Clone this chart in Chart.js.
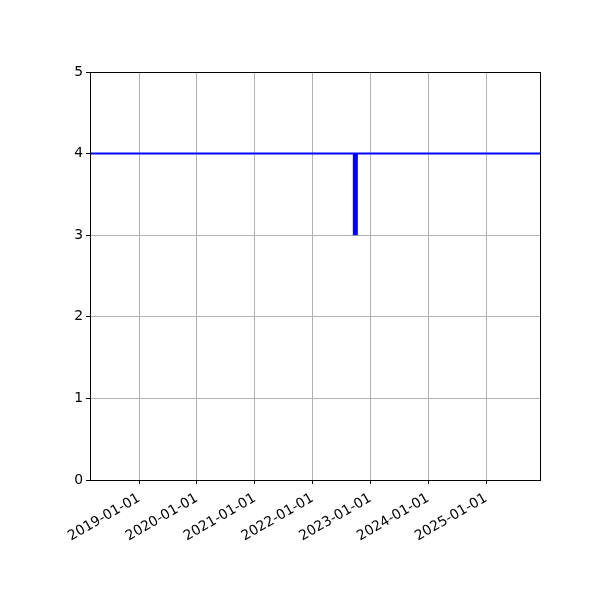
<!DOCTYPE html>
<html>
<head>
<meta charset="utf-8">
<script src="https://cdn.jsdelivr.net/npm/chart.js@4"></script>
<style>
  body { margin: 0; background: #fff; }
  #wrap { width: 600px; height: 600px; }
</style>
</head>
<body>
<div id="wrap"><canvas id="chart" width="600" height="600"></canvas></div>
<script>
// x limits of the plot
const xLimits = ['2018-02-24', '2025-12-08'];

// flat series across the whole range
const lineDates = ['2018-02-24', '2025-12-08'];
const lineValues = [4, 4];

// single vertical segment
const spikeDates = ['2022-09-28', '2022-09-28'];
const spikeValues = [3, 4];

const yearTicks = ['2019-01-01', '2020-01-01', '2021-01-01', '2022-01-01',
                   '2023-01-01', '2024-01-01', '2025-01-01'];
const yTicks = [0, 1, 2, 3, 4, 5];

function ts(d) {
  return Date.parse(d + 'T00:00:00Z');
}

function fmtDate(v) {
  return new Date(v).toISOString().slice(0, 10);
}

function toPoints(dates, values) {
  return dates.map((d, i) => ({ x: ts(d), y: values[i] }));
}

const FONT = { family: 'DejaVu Sans', size: 13.9 };

// top/right spines like matplotlib
const frame = {
  id: 'frame',
  afterDatasetsDraw(chart) {
    const { ctx, chartArea: a } = chart;
    ctx.save();
    ctx.strokeStyle = '#000';
    ctx.lineWidth = 1;
    ctx.strokeRect(Math.round(a.left) + 0.5, Math.round(a.top) + 0.5,
                   Math.round(a.right - a.left), Math.round(a.bottom - a.top));
    ctx.restore();
  }
};

new Chart(document.getElementById('chart'), {
  type: 'line',
  data: {
    datasets: [{
      data: toPoints(lineDates, lineValues),
      borderColor: '#0000ff',
      borderWidth: 2,
      pointRadius: 0,
      fill: false
    }, {
      data: toPoints(spikeDates, spikeValues),
      borderColor: '#0000ff',
      borderWidth: 5,
      borderCapStyle: 'butt',
      pointRadius: 0,
      fill: false
    }]
  },
  options: {
    responsive: false,
    animation: false,
    devicePixelRatio: 1,
    layout: { padding: { top: 72, right: 60, left: 0, bottom: 0 } },
    plugins: {
      legend: { display: false },
      tooltip: { enabled: false }
    },
    scales: {
      x: {
        type: 'linear',
        min: ts(xLimits[0]),
        max: ts(xLimits[1]),
        afterBuildTicks(scale) {
          scale.ticks = yearTicks.map(d => ({ value: ts(d) }));
        },
        afterFit(scale) { scale.height = 120; },
        ticks: {
          autoSkip: false,
          minRotation: 30,
          maxRotation: 30,
          padding: 6,
          color: '#000',
          font: FONT,
          callback: v => fmtDate(v)
        },
        grid: { color: '#b0b0b0', tickColor: '#000', tickLength: 4, lineWidth: 1 },
        border: { color: '#000', width: 1 }
      },
      y: {
        min: 0,
        max: 5,
        afterBuildTicks(scale) {
          scale.ticks = yTicks.map(v => ({ value: v }));
        },
        afterFit(scale) { scale.width = 90; },
        ticks: {
          padding: 3,
          color: '#000',
          font: FONT
        },
        grid: { color: '#b0b0b0', tickColor: '#000', tickLength: 4, lineWidth: 1 },
        border: { color: '#000', width: 1 }
      }
    }
  },
  plugins: [frame]
});
</script>
</body>
</html>
